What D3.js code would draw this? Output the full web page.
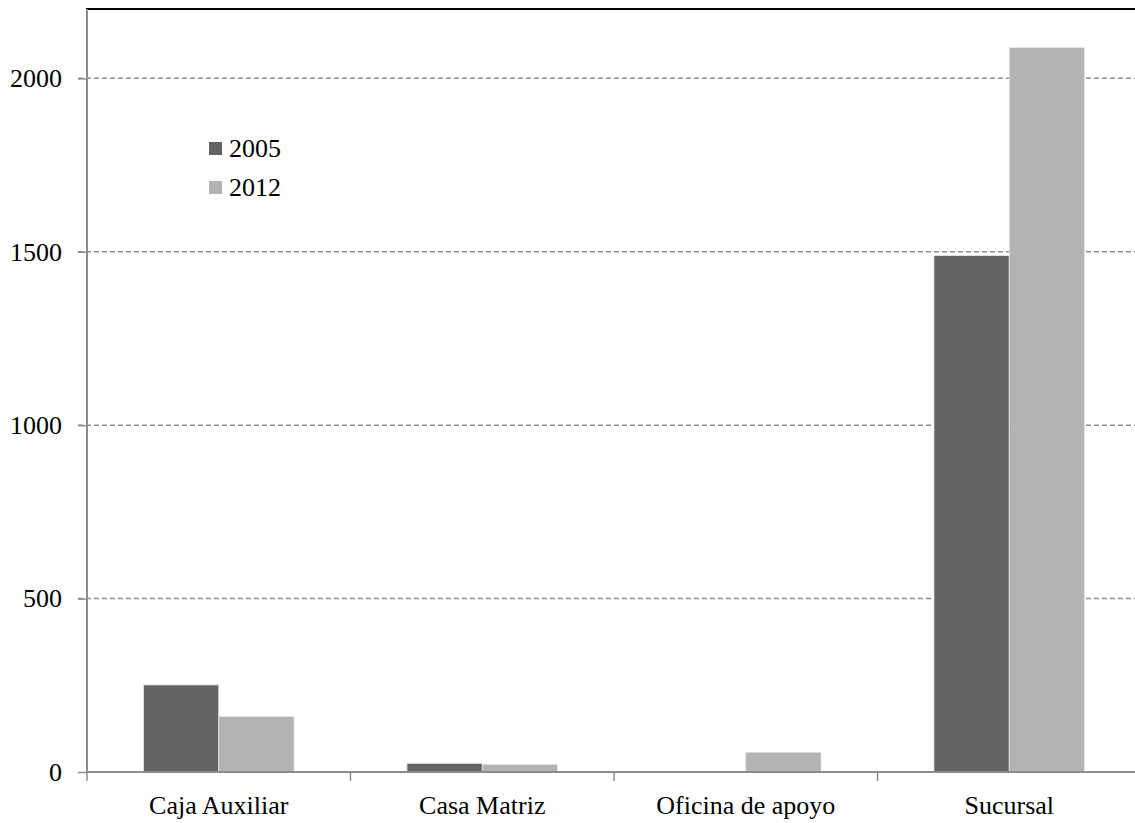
<!DOCTYPE html>
<html>
<head>
<meta charset="utf-8">
<script src="https://cdn.jsdelivr.net/npm/d3@7"></script>
</head>
<body style="margin:0;background:#fff">
<div id="chart"></div>
<script>
const categories = ["Caja Auxiliar", "Casa Matriz", "Oficina de apoyo", "Sucursal"];
const seriesNames = ["2005", "2012"];
const values2005 = [251, 25, 0, 1489];
const values2012 = [160, 22, 57, 2089];
const yTicks = [0, 500, 1000, 1500, 2000];

const w = 1135, h = 823;
const mLeft = 87, mTop = 9, mBottom = 772, mRight = 1141;
const colors = { "2005": "#636363", "2012": "#b3b3b3" };
const FONT = "'Liberation Serif'";

const data = categories.map((c, i) => ({ cat: c, "2005": values2005[i], "2012": values2012[i] }));

const svg = d3.select("#chart").append("svg")
  .attr("width", w)
  .attr("height", h)
  .style("font-family", FONT);

// scales
const x = d3.scaleBand().domain(categories).range([mLeft, mRight]).paddingInner(0).paddingOuter(0);
const x1 = d3.scaleBand().domain(seriesNames).range([0, x.bandwidth()]).paddingInner(0).paddingOuter(0.75);
const y = d3.scaleLinear().domain([0, 2200]).range([mBottom, mTop]);

// gridlines
svg.append("g")
  .selectAll("line")
  .data(yTicks.filter(d => d > 0))
  .enter().append("line")
  .attr("x1", mLeft - 9).attr("x2", w)
  .attr("y1", d => y(d)).attr("y2", d => y(d))
  .attr("stroke", "#8c8c8c")
  .attr("stroke-width", 1.5)
  .attr("stroke-dasharray", "5,3");

// top border
svg.append("line")
  .attr("x1", mLeft - 1).attr("x2", w)
  .attr("y1", mTop).attr("y2", mTop)
  .attr("stroke", "#000").attr("stroke-width", 2);

// bars
svg.append("g").selectAll("g")
  .data(data)
  .enter().append("g")
  .attr("transform", d => `translate(${x(d.cat)},0)`)
  .selectAll("rect")
  .data(d => seriesNames.map(s => ({ s, v: d[s] })))
  .enter().append("rect")
  .attr("x", d => x1(d.s))
  .attr("width", x1.bandwidth())
  .attr("y", d => y(d.v))
  .attr("height", d => mBottom - y(d.v))
  .attr("fill", d => colors[d.s])
  .attr("stroke", d => d.v > 0 ? "#e6e6e6" : "none")
  .attr("stroke-width", 0.8);

// y axis
const yAxis = d3.axisLeft(y).tickValues(yTicks).tickSize(9).tickPadding(16).tickFormat(d3.format("d"));
const gy = svg.append("g").attr("transform", `translate(${mLeft},0)`).call(yAxis)
  .attr("font-family", null).attr("font-size", null);
gy.select(".domain").attr("stroke", "#8c8c8c").attr("stroke-width", 2)
  .attr("d", `M0,${mTop}V${mBottom}`);
gy.selectAll(".tick line").attr("stroke", "#8c8c8c").attr("stroke-width", 1.5);
gy.selectAll("text").attr("fill", "#000")
  .style("font-family", FONT).style("font-size", "26px");

// x axis
const xAxis = d3.axisBottom(x).tickSize(0).tickPadding(24);
const gx = svg.append("g").attr("transform", `translate(0,${mBottom})`).call(xAxis)
  .attr("font-family", null).attr("font-size", null);
gx.select(".domain").attr("stroke", "#8c8c8c").attr("stroke-width", 2)
  .attr("d", `M${mLeft},0H${w}`);
gx.selectAll("text").attr("fill", "#000")
  .style("font-family", FONT).style("font-size", "26px");

// category boundary ticks
svg.append("g").selectAll("line")
  .data(categories)
  .enter().append("line")
  .attr("x1", d => x(d)).attr("x2", d => x(d))
  .attr("y1", mBottom).attr("y2", mBottom + 9)
  .attr("stroke", "#8c8c8c").attr("stroke-width", 1.5);

// legend
const legend = svg.append("g").attr("transform", "translate(209,142)");
seriesNames.forEach((s, i) => {
  const g = legend.append("g").attr("transform", `translate(0,${i * 39})`);
  g.append("rect").attr("width", 13).attr("height", 13).attr("fill", colors[s]);
  g.append("text").attr("x", 20).attr("y", 15)
    .style("font-family", FONT).style("font-size", "26px").text(s);
});
</script>
</body>
</html>
